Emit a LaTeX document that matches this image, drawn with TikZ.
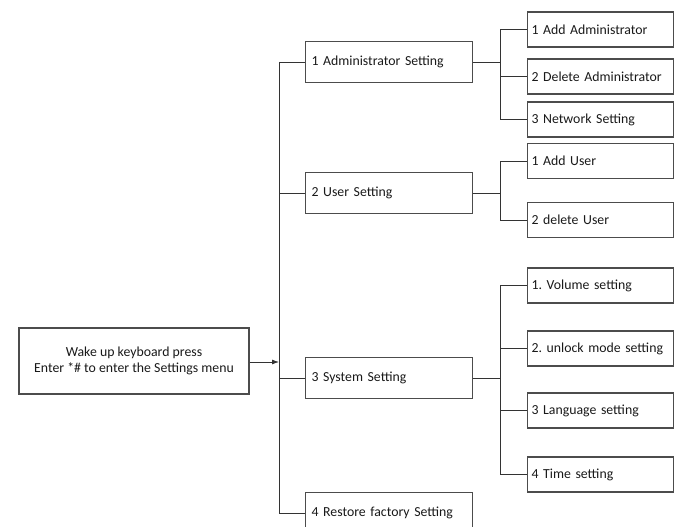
\documentclass[tikz,border=0pt]{standalone}
\usepackage{fontspec}
\setmainfont{Carlito}
\frenchspacing
\usetikzlibrary{arrows.meta}
\begin{document}
\begin{tikzpicture}[x=1pt,y=-1pt,
  every node/.style={font=\fontsize{13.8}{16}\selectfont, text=black!90},
  boxstyle/.style={draw=black!70, line width=1.1pt},
  mainbox/.style={boxstyle, minimum width=230pt, minimum height=66pt, align=center, inner sep=0pt},
  midbox/.style={boxstyle, anchor=west, minimum width=167pt, minimum height=41pt, text width=155pt, inner xsep=6pt, align=left},
  leafbox/.style={boxstyle, anchor=west, minimum width=146pt, minimum height=35pt, text width=138pt, inner xsep=4pt, align=left},
  link/.style={draw=black!80, line width=0.8pt}]
\useasboundingbox (0,0) rectangle (675,527);

\node[mainbox] (main) at (134,361) {Wake up keyboard press\\Enter *\# to enter the Settings menu};

\node[midbox] (admin) at (305,62) {1 Administrator Setting};
\node[midbox] (user) at (305,193) {2 User Setting};
\node[midbox] (sys) at (305,378) {3 System Setting};
\node[midbox] (rest) at (305,513) {4 Restore factory Setting};

\node[leafbox] (a1) at (527,29.5) {1 Add Administrator};
\node[leafbox] (a2) at (527,76.5) {2 Delete Administrator};
\node[leafbox] (a3) at (527,119.5) {3 Network Setting};
\node[leafbox] (u1) at (527,161) {1 Add User};
\node[leafbox] (u2) at (527,220) {2 delete User};
\node[leafbox] (s1) at (527,285.5) {1. Volume setting};
\node[leafbox] (s2) at (527,348.5) {2. unlock mode setting};
\node[leafbox] (s3) at (527,410.5) {3 Language setting};
\node[leafbox] (s4) at (527,474.5) {4 Time setting};

% trunk
\coordinate (tt) at (279,62);
\coordinate (tb) at (279,513);
\coordinate (ta) at (279,362);
\draw[link] (tt) -- (tb);
\draw[link, -{Latex[length=7pt,width=5pt]}] (main.east |- ta) -- (ta);
\foreach \n in {admin,user,sys,rest}{
  \draw[link] (tt |- \n.west) -- (\n.west);
}

% sub trunks
\coordinate (va) at (500,62);
\coordinate (vu) at (500,193);
\coordinate (vs) at (500,378);
\draw[link] (admin.east) -- (va);
\draw[link] (user.east) -- (vu);
\draw[link] (sys.east) -- (vs);
\draw[link] (va |- a1.west) -- (va |- a3.west);
\draw[link] (vu |- u1.west) -- (vu |- u2.west);
\draw[link] (vs |- s1.west) -- (vs |- s4.west);
\foreach \n in {a1,a2,a3}{ \draw[link] (va |- \n.west) -- (\n.west); }
\foreach \n in {u1,u2}{ \draw[link] (vu |- \n.west) -- (\n.west); }
\foreach \n in {s1,s2,s3,s4}{ \draw[link] (vs |- \n.west) -- (\n.west); }
\end{tikzpicture}
\end{document}
